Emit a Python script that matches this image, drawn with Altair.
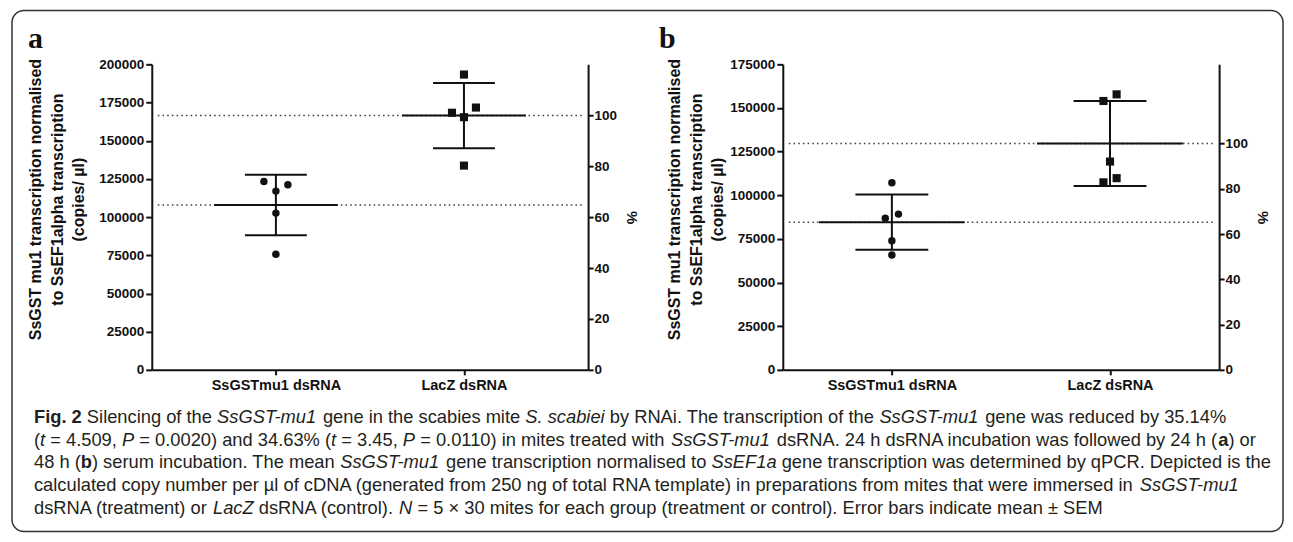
import altair as alt
import pandas as pd

# ---------------- data ----------------
groups = ["SsGSTmu1 dsRNA", "LacZ dsRNA"]
shapes = ["circle", "square"]

a_gst = [123300, 117000, 121100, 102600, 75650]
a_lacz = [193300, 168300, 171700, 165400, 133700]
a_gst_jitter = [-1, 0, 1, 0, 0]
a_lacz_jitter = [0, -1, 1, 0, 0]

b_gst = [107200, 86900, 89200, 73900, 65800]
b_lacz = [154000, 157800, 119300, 107400, 109800]
b_gst_jitter = [0, -0.55, 0.55, 0, 0]
b_lacz_jitter = [-0.55, 0.55, 0, -0.55, 0.55]

a_ticks = [0, 25000, 50000, 75000, 100000, 125000, 150000, 175000, 200000]
b_ticks = [0, 25000, 50000, 75000, 100000, 125000, 150000, 175000]
pct_ticks = [0, 20, 40, 60, 80, 100]

y_title = ["SsGST mu1 transcription normalised",
           "to SsEF1alpha transcription",
           "(copies/ µl)"]

caption_lines = [
    [("b", "Fig. 2"), ("r", " Silencing of the "), ("i", "SsGST-mu1"),
     ("r", " gene in the scabies mite "), ("i", "S. scabiei"),
     ("r", " by RNAi. The transcription of the "), ("i", "SsGST-mu1"),
     ("r", " gene was reduced by 35.14%")],
    [("r", "("), ("i", "t"), ("r", " = 4.509, "), ("i", "P"),
     ("r", " = 0.0020) and 34.63% ("), ("i", "t"), ("r", " = 3.45, "), ("i", "P"),
     ("r", " = 0.0110) in mites treated with "), ("i", "SsGST-mu1"),
     ("r", " dsRNA. 24 h dsRNA incubation was followed by 24 h ("), ("b", "a"),
     ("r", ") or")],
    [("r", "48 h ("), ("b", "b"), ("r", ") serum incubation. The mean "),
     ("i", "SsGST-mu1"), ("r", " gene transcription normalised to "), ("i", "SsEF1a"),
     ("r", " gene transcription was determined by qPCR. Depicted is the")],
    [("r", "calculated copy number per µl of cDNA (generated from 250 ng of total RNA "
           "template) in preparations from mites that were immersed in "),
     ("i", "SsGST-mu1")],
    [("r", "dsRNA (treatment) or "), ("i", "LacZ"), ("r", " dsRNA (control). "), ("i", "N"),
     ("r", " = 5 × 30 mites for each group (treatment or control). Error bars indicate mean ± SEM")],
]

# ---------------- styling ----------------
W, H = 437, 306
FONT = "Liberation Sans"
BLACK = "#111111"
TXT = "#231f20"

# Arial-compatible advance widths (per 1000 em) for caption layout
AR = {' ': 278, '!': 278, '%': 889, '(': 333, ')': 333, ',': 278, '-': 333, '.': 278,
      '/': 278, ':': 278, ';': 278, '=': 584, '×': 584, '±': 584, 'µ': 556}
for ch in "0123456789":
    AR[ch] = 556
for ch, w in zip("ABCDEFGHIJKLMNOPQRSTUVWXYZ",
                 [667, 667, 722, 722, 667, 611, 778, 722, 278, 500, 667, 556, 833,
                  722, 778, 667, 778, 722, 667, 611, 722, 667, 944, 667, 667, 611]):
    AR[ch] = w
for ch, w in zip("abcdefghijklmnopqrstuvwxyz",
                 [556, 556, 500, 556, 556, 278, 556, 556, 222, 222, 500, 222, 833,
                  556, 556, 556, 556, 333, 500, 278, 556, 500, 722, 500, 500, 500]):
    AR[ch] = w
AB = dict(AR)
AB.update({'F': 611, 'i': 278, 'g': 611, '.': 278, ' ': 278, '2': 556, 'a': 556, 'b': 611})


def em(text, style):
    tbl = AB if style == "b" else AR
    return sum(tbl.get(c, 556) for c in text) / 1000.0


def panel(letter, gst, lacz, gst_j, lacz_j, ticks, pad, mean_len, cap_len, title_x):
    df = pd.DataFrame({
        "group": [groups[0]] * len(gst) + [groups[1]] * len(lacz),
        "value": gst + lacz,
        "jitter": gst_j + lacz_j,
    })
    ymax = ticks[-1]
    yscale = alt.Scale(domain=[0, ymax], nice=False)
    xscale = alt.Scale(type="point", domain=groups, padding=pad)
    xaxis = alt.Axis(title=None, labelAngle=0, labelFontSize=14.5, labelPadding=4, tickSize=5,
                     labelFontWeight="bold", labelFont=FONT, labelColor=BLACK)
    x = alt.X("group:N", scale=xscale, axis=xaxis, sort=groups)
    yaxis = alt.Axis(values=ticks, format="d", title=y_title, titleX=title_x, titleY=135,
                     titleAngle=270, titleAlign="center", titleBaseline="middle",
                     titleFontSize=16, titleLineHeight=21.5, tickSize=6,
                     labelPadding=2, labelFontSize=13.5, labelFontWeight="bold",
                     labelFont=FONT, labelColor=BLACK, titleFont=FONT,
                     titleFontWeight="bold", titleColor=BLACK)

    def Y(field):
        return alt.Y(field, scale=yscale, axis=yaxis)

    base = alt.Chart(df)
    stats = base.transform_aggregate(
        m="mean(value)", sd="stdev(value)", groupby=["group"]
    ).transform_calculate(lo="datum.m - datum.sd", hi="datum.m + datum.sd")

    dotted = stats.mark_rule(color="#444444", strokeWidth=1.5, strokeDash=[1.6, 3.1]).encode(
        y=Y("m:Q"), x=alt.value(6), x2=alt.value(W - 5))
    vbar = stats.mark_rule(color=BLACK, strokeWidth=2).encode(
        x=x, y=Y("lo:Q"), y2="hi:Q")
    mean_t = stats.mark_tick(color=BLACK, thickness=2, size=mean_len, opacity=1,
                             orient="horizontal").encode(x=x, y=Y("m:Q"))
    cap_hi = stats.mark_tick(color=BLACK, thickness=2, size=cap_len, opacity=1,
                             orient="horizontal").encode(x=x, y=Y("hi:Q"))
    cap_lo = stats.mark_tick(color=BLACK, thickness=2, size=cap_len, opacity=1,
                             orient="horizontal").encode(x=x, y=Y("lo:Q"))
    pts = base.mark_point(filled=True, opacity=1, color=BLACK, strokeWidth=0).encode(
        x=x,
        xOffset=alt.XOffset("jitter:Q", scale=alt.Scale(domain=[-1, 1], range=[-12, 12])),
        y=Y("value:Q"),
        shape=alt.Shape("group:N", scale=alt.Scale(domain=groups, range=shapes), legend=None),
        size=alt.Size("group:N", scale=alt.Scale(domain=groups, range=[56, 66]), legend=None),
    )
    lab = alt.Chart(pd.DataFrame({"t": [letter]})).mark_text(
        font="Liberation Serif", fontWeight="bold", fontSize=30, align="left",
        baseline="alphabetic", color=BLACK).encode(
        text="t:N", x=alt.value(-124), y=alt.value(-16))

    pct_max = ymax / (sum(lacz) / len(lacz)) * 100
    right = alt.Chart(pd.DataFrame({"pct": [0]})).mark_point(opacity=0).encode(
        y=alt.Y("pct:Q", scale=alt.Scale(domain=[0, pct_max], nice=False),
                axis=alt.Axis(orient="right", values=pct_ticks, title="%", titleAngle=90,
                              titleFontSize=15, titlePadding=7, tickSize=5,
                              labelPadding=1, labelFontSize=13.5, labelFontWeight="bold",
                              labelFont=FONT, labelColor=BLACK, titleFont=FONT,
                              titleFontWeight="bold", titleColor=BLACK)))
    left = alt.layer(dotted, vbar, mean_t, cap_hi, cap_lo, pts, lab)
    return alt.layer(left, right).resolve_scale(y="independent").properties(width=W, height=H)


pa = panel("a", a_gst, a_lacz, a_gst_jitter, a_lacz_jitter, a_ticks, 0.66, 124, 62, -116)
pb = panel("b", b_gst, b_lacz, b_gst_jitter, b_lacz_jitter, b_ticks, 0.5, 146, 73, -108)

# ---------------- caption ----------------
fs = 1239 / sum(em(t, s) for s, t in caption_lines[2])
X0, Y0, LH = -118, 23, 22.9
rows = []
for i, line in enumerate(caption_lines):
    pos = 0.0
    for style, txt in line:
        lead = len(txt) - len(txt.lstrip(" "))
        start = pos + em(" " * lead, style)
        rows.append({"style": style, "text": txt.strip(" "),
                     "px": X0 + start * fs, "py": Y0 + i * LH})
        pos += em(txt, style)
cap_df = pd.DataFrame(rows)
cap_base = alt.Chart(cap_df)


def cap_layer(style, **kw):
    return cap_base.transform_filter(alt.datum.style == style).mark_text(
        align="left", baseline="alphabetic", font=FONT, fontSize=fs, color=TXT, **kw
    ).encode(x=alt.X("px:Q", scale=None, axis=None),
             y=alt.Y("py:Q", scale=None, axis=None),
             text="text:N")


frame = alt.Chart(pd.DataFrame({"k": [0]})).mark_rect(
    filled=False, color="#333333", strokeWidth=1.5, cornerRadius=12).encode(
    x=alt.value(-140), x2=alt.value(1133), y=alt.value(-390), y2=alt.value(132))

caption = alt.layer(
    frame,
    cap_layer("r"),
    cap_layer("i", fontStyle="italic"),
    cap_layer("b", fontWeight="bold"),
).properties(width=W, height=110)

chart = alt.concat(pa, pb, caption, columns=2, bounds="flush",
                   spacing={"row": 30, "column": 195}).properties(
    padding={"left": 2, "top": 0, "right": 0, "bottom": 0}
).configure_view(stroke="transparent").configure_axis(
    domainColor=BLACK, domainWidth=2, tickColor=BLACK, tickWidth=2,
    labelColor=BLACK, labelFont=FONT, labelFontWeight="bold",
    titleFont=FONT, titleFontWeight="bold", titleColor=BLACK, grid=False,
)

chart.save("out.html", embed_options={"renderer": "svg", "actions": False})
